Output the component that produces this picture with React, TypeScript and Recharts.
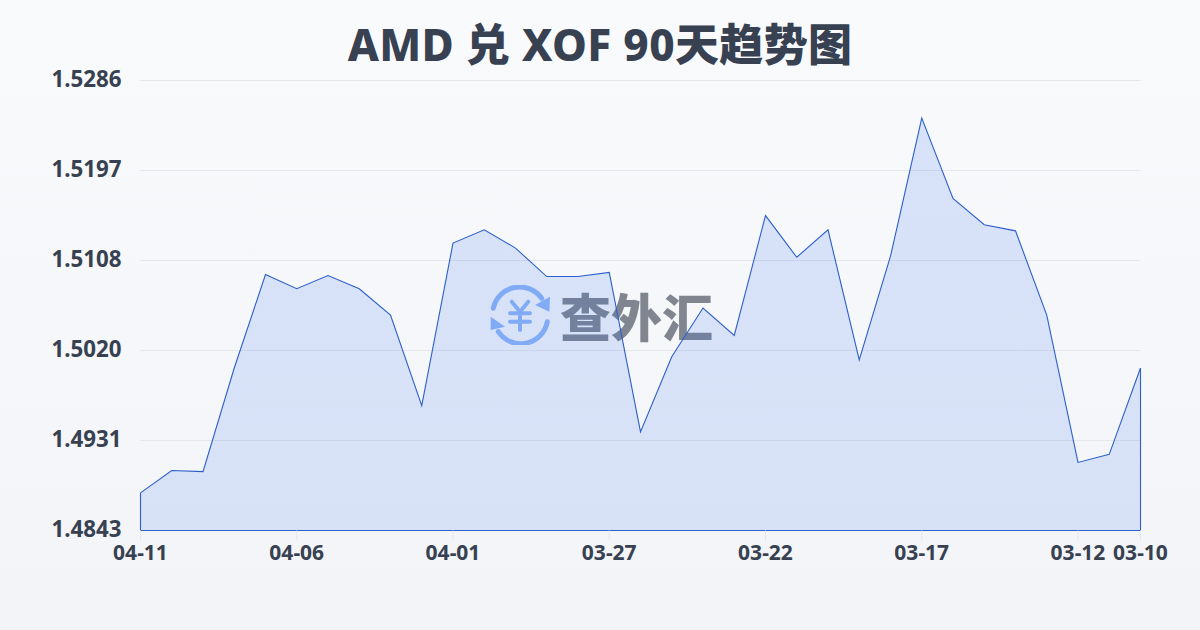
import React from "react";
import { AreaChart, Area, XAxis, YAxis, CartesianGrid, ReferenceLine } from "recharts";

const dates = ["04-11","04-10","04-09","04-08","04-07","04-06","04-05","04-04","04-03","04-02","04-01","03-31","03-30","03-29","03-28","03-27","03-26","03-25","03-24","03-23","03-22","03-21","03-20","03-19","03-18","03-17","03-16","03-15","03-14","03-13","03-12","03-11","03-10"];
const rates = [1.4880,1.4902,1.4901,1.5003,1.50950,1.5081,1.50940,1.5081,1.5055,1.4966,1.5126,1.5139,1.5121,1.50930,1.50930,1.5097,1.4940,1.5014,1.5062,1.5035,1.5153,1.5112,1.5139,1.5011,1.5113,1.5249,1.5170,1.5144,1.5138,1.5055,1.4910,1.4918,1.5003];
const xTicks = ["04-11","04-06","04-01","03-27","03-22","03-17","03-12","03-10"];
const yTicks = [1.4843,1.49316,1.50202,1.51088,1.51974,1.5286];
const yLabels = ["1.4843","1.4931","1.5020","1.5108","1.5197","1.5286"];
const title = "AMD 兑 XOF 90天趋势图";
const data = dates.map((date, i) => ({ date, rate: rates[i] }));

const FONT = '"Noto Sans", "Noto Sans CJK SC", sans-serif';
const TEXT = "#374151";
const LINE = "#2c5fcb";

export default function App() {
  return (
    <div style={{ position: "fixed", left: 0, top: 0, width: 1200, height: 630, overflow: "hidden", background: "linear-gradient(180deg,#f8fafc 0%,#f2f4f7 100%)", fontFamily: FONT }}>
      <div style={{ position: "absolute", left: 0, width: 1200, top: 11, textAlign: "center", fontSize: 44, lineHeight: "66px", fontWeight: 800, letterSpacing: 0.35, color: TEXT, fontFamily: FONT }}>{title}</div>
      <div style={{ position: "absolute", left: 489, top: 285, display: "flex", alignItems: "center" }}>
        <svg width={62} height={60} viewBox="0 0 62 60">
          <g fill="none" stroke="#8fb6f6" strokeWidth={5} strokeLinecap="round">
            <path d="M4.3 23.3 A27 27 0 0 1 52.7 13.3" />
            <path d="M58.3 36.7 A27 27 0 0 1 9.3 46.7" />
            <path d="M22.7 16.7 L31 26.7 L39.3 16.7 M31 26.7 V45 M21 28.3 H41 M21 36.7 H41" strokeWidth={4} />
          </g>
          <path d="M61 11.7 L60.3 26.7 L46 20 Z" fill="#8fb6f6" />
          <path d="M1.7 31.7 V45 L16 41.7 Z" fill="#8fb6f6" />
        </svg>
        <div style={{ marginLeft: 9, fontSize: 51, lineHeight: "60px", fontWeight: 900, color: "#80858f", fontFamily: '"Noto Sans CJK SC", sans-serif', letterSpacing: 0 }}>查外汇</div>
      </div>
      <div style={{ position: "absolute", left: 0, top: 0 }}>
        <AreaChart width={1200} height={630} data={data} margin={{ top: 80.5, right: 59.5, bottom: 0, left: 0 }}>
          <defs>
            <linearGradient id="areaFill" x1="0" y1="0" x2="0" y2="1">
              <stop offset="0%" stopColor="#2f6bf0" stopOpacity={0.16} />
              <stop offset="100%" stopColor="#2f6bf0" stopOpacity={0.14} />
            </linearGradient>
          </defs>
          <CartesianGrid horizontal vertical={false} stroke="#e5e7eb" strokeWidth={1} syncWithTicks />
          <XAxis dataKey="date" scale="point" padding={{ left: 0, right: 0 }} ticks={xTicks} interval={0} axisLine={false} tickSize={10} tickLine={{ stroke: "#e5e7eb" }} tickMargin={5} tick={{ fill: TEXT, fontSize: 21, fontWeight: 700, fontFamily: FONT }} height={99.5} />
          <YAxis type="number" domain={[1.4843, 1.5286]} ticks={yTicks} interval={0} width={140.5} axisLine={false} tickLine={false} tickMargin={13} tickFormatter={(_: number, i: number) => yLabels[i]} tick={{ fill: TEXT, fontSize: 22.3, fontWeight: 700, fontFamily: FONT, dy: -1.5 }} />
          <Area type="linear" dataKey="rate" stroke={LINE} strokeWidth={1.1} fill="url(#areaFill)" fillOpacity={1} dot={false} activeDot={false} isAnimationActive={false} baseValue={1.4843} />
          <ReferenceLine y={1.4843} stroke={LINE} strokeWidth={1.1} />
          <ReferenceLine stroke={LINE} strokeWidth={1.1} segment={[{ x: "04-11", y: 1.4843 }, { x: "04-11", y: rates[0] }]} />
          <ReferenceLine stroke={LINE} strokeWidth={1.1} segment={[{ x: "03-10", y: 1.4843 }, { x: "03-10", y: rates[32] }]} />
        </AreaChart>
      </div>
    </div>
  );
}
